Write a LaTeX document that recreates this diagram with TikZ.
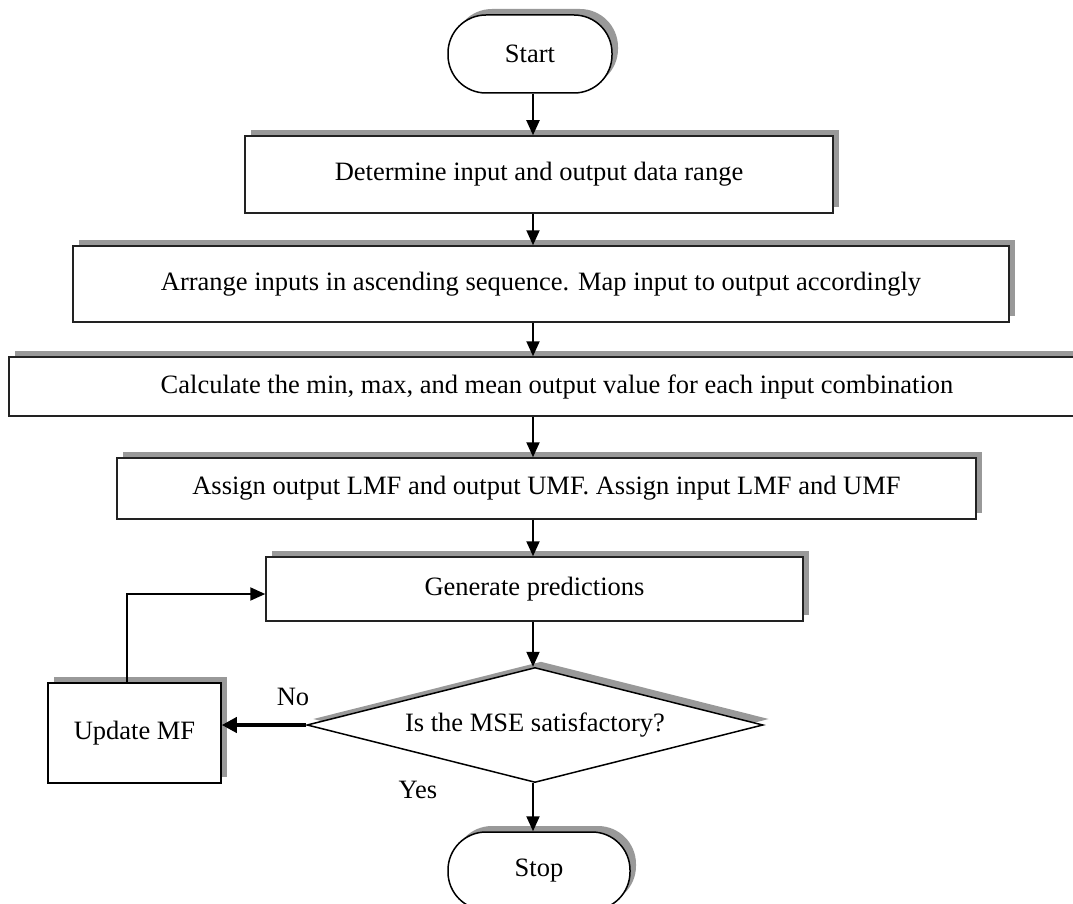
\documentclass[tikz,border=0pt]{standalone}
\usepackage{fontspec}
\setmainfont{Liberation Serif}
\usetikzlibrary{arrows.meta,shapes.geometric,shadows}
\definecolor{shadowgray}{HTML}{999999}
\definecolor{edgegray}{HTML}{222222}
\tikzset{
  shade6/.style={drop shadow={shadow xshift=6pt,shadow yshift=6pt,fill=shadowgray,opacity=1}},
  procbox/.style={draw=edgegray,line width=1.5pt,fill=white,rectangle,inner sep=0pt,
    font=\fontsize{26.5}{31}\selectfont,shade6},
  termbox/.style={procbox,rounded corners=38pt,draw=black},
  decbox/.style={draw=black,line width=1.5pt,fill=white,diamond,inner sep=0pt,
    font=\fontsize{26.5}{31}\selectfont,shade6},
  lbl/.style={font=\fontsize{26.5}{31}\selectfont,inner sep=0pt},
  arr/.style={line width=2pt,-{Triangle[length=15pt,width=13pt]}},
  thickarr/.style={line width=4pt,-{Triangle[length=15pt,width=15pt]}},
}
\begin{document}
\begin{tikzpicture}[x=1pt,y=-1pt]
\useasboundingbox (0,0) rectangle (1073,904);

% flow steps
\node[termbox,minimum width=164pt,minimum height=78pt] (start) at (530,54) {Start};
\node[procbox,minimum width=588pt,minimum height=77pt] (b1) at (539,174.5) {Determine input and output data range};
\node[procbox,minimum width=936pt,minimum height=76pt] (b2) at (541,284) {Arrange inputs in ascending sequence. Map input to output accordingly};
\node[procbox,minimum width=1081pt,minimum height=59pt] (b3) at (549.5,386.5) {};
\node[lbl] (b3text) at (557,386.5) {Calculate the min, max, and mean output value for each input combination};
\node[procbox,minimum width=859pt,minimum height=61pt] (b4) at (546.5,488.5) {Assign output LMF and output UMF. Assign input LMF and UMF};
\node[procbox,minimum width=537pt,minimum height=64pt] (b5) at (534.5,589) {Generate predictions};
\node[decbox,minimum width=456pt,minimum height=115pt,shape aspect=3.97] (dec) at (535,725) {Is the MSE satisfactory?};
\node[procbox,draw=black,minimum width=173pt,minimum height=100pt] (upd) at (134.5,733) {Update MF};
\node[termbox,minimum width=182pt,minimum height=78pt] (stop) at (539,871) {Stop};

% main axis of the vertical connectors
\coordinate (axis) at (533,0);

\draw[arr] (start.south -| axis) -- (b1.north -| axis);
\draw[arr] (b1.south -| axis) -- (b2.north -| axis);
\draw[arr] (b2.south -| axis) -- (b3.north -| axis);
\draw[arr] (b3.south -| axis) -- (b4.north -| axis);
\draw[arr] (b4.south -| axis) -- (b5.north -| axis);
\draw[arr] (b5.south -| axis) -- (dec.north -| axis);
\draw[arr] (dec.south -| axis) -- (stop.north -| axis);

% loop back through the update step
\draw[thickarr] (dec.west) -- (dec.west -| upd.east);
\draw[arr] ([xshift=-7.5pt]upd.north) |- ([yshift=-5pt]b5.west);

% branch labels
\node[lbl] (no) at (293,697) {No};
\node[lbl] (yes) at (418,790) {Yes};
\end{tikzpicture}
\end{document}
